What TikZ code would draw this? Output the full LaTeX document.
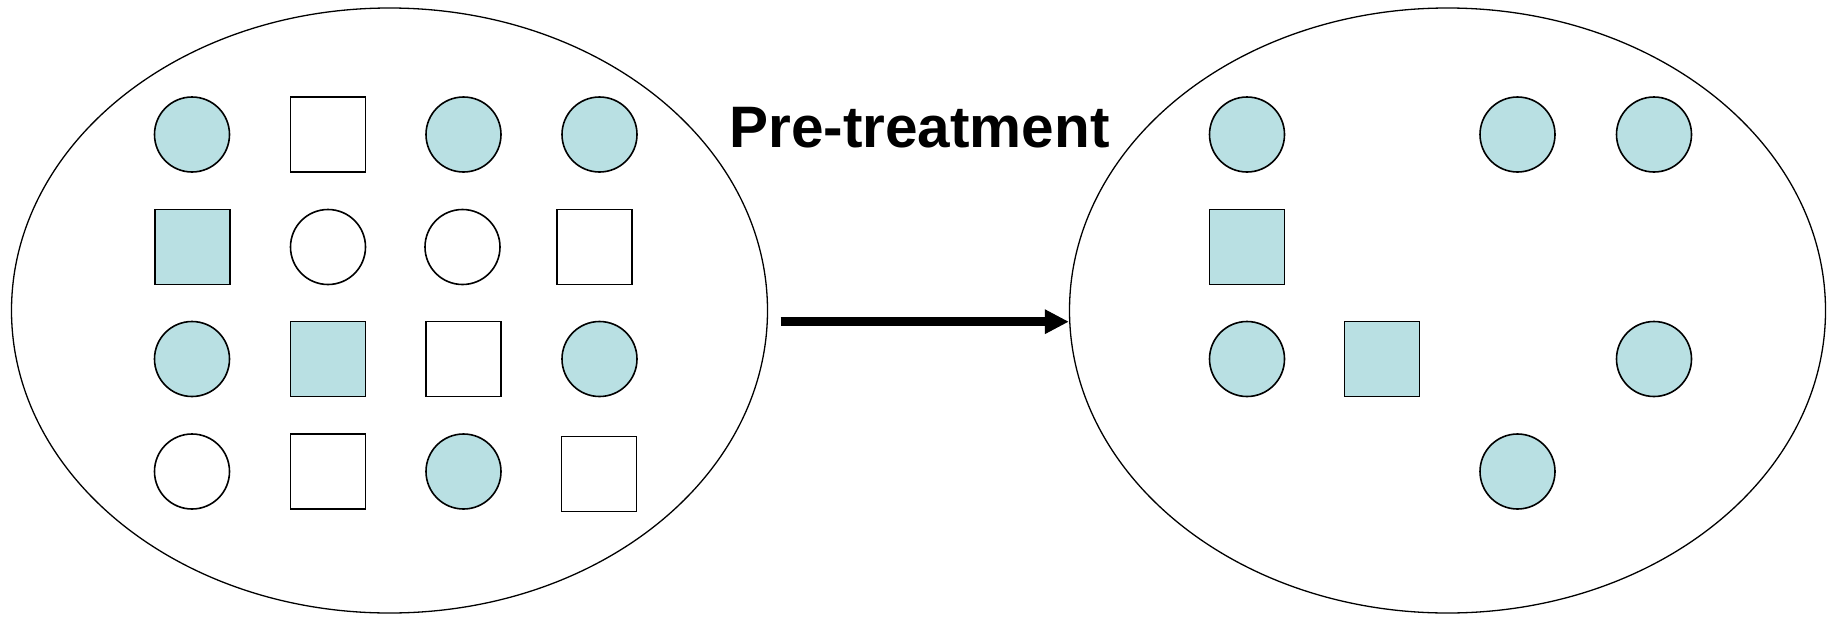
\documentclass[tikz,border=0pt]{standalone}
\usepackage{fontspec}
\setmainfont{Liberation Sans}
\usepackage{tikz}
\usetikzlibrary{arrows.meta,shapes.geometric}
\definecolor{lightcyan}{RGB}{185,224,227}
\tikzset{
  pool/.style={ellipse, draw, line width=1.3pt, inner sep=0pt, minimum width=756pt, minimum height=605pt},
  fullcirc/.style={circle, draw, line width=1.6pt, fill=lightcyan, inner sep=0pt, minimum size=75pt},
  emptycirc/.style={circle, draw, line width=1.6pt, fill=white, inner sep=0pt, minimum size=75pt},
  fullsq/.style={rectangle, draw, line width=1.6pt, fill=lightcyan, inner sep=0pt, minimum size=75pt},
  emptysq/.style={rectangle, draw, line width=1.6pt, fill=white, inner sep=0pt, minimum size=75pt}
}

\begin{document}
\begin{tikzpicture}[x=1pt,y=-1pt]
\useasboundingbox (0,0) rectangle (1831,616);
% the two pools
\node[pool] (before) at (389.5,310.5) {};
\node[pool] (after) at (1447.5,310.5) {};
% before pre-treatment
\node[fullcirc]  (b11) at (192,134.5) {};
\node[emptysq]   (b12) at (328,134.5) {};
\node[fullcirc]  (b13) at (463.5,134.5) {};
\node[fullcirc]  (b14) at (599.5,134.5) {};
\node[fullsq]    (b21) at (192.5,247) {};
\node[emptycirc] (b22) at (328,247) {};
\node[emptycirc] (b23) at (462.5,247) {};
\node[emptysq]   (b24) at (594.5,247) {};
\node[fullcirc]  (b31) at (192,359) {};
\node[fullsq]    (b32) at (328,359) {};
\node[emptysq]   (b33) at (463.5,359) {};
\node[fullcirc]  (b34) at (599.5,359) {};
\node[emptycirc] (b41) at (192,471.5) {};
\node[emptysq]   (b42) at (328,471.5) {};
\node[fullcirc]  (b43) at (463.5,471.5) {};
\node[emptysq]   (b44) at (599,474) {};
% after pre-treatment
\node[fullcirc]  (a11) at (1247,134.5) {};
\node[fullcirc]  (a13) at (1517.5,134.5) {};
\node[fullcirc]  (a14) at (1654,134.5) {};
\node[fullsq]    (a21) at (1247,247) {};
\node[fullcirc]  (a31) at (1247,359) {};
\node[fullsq]    (a32) at (1382,359) {};
\node[fullcirc]  (a34) at (1654,359) {};
\node[fullcirc]  (a43) at (1517.5,471.5) {};
% arrow and label
\node[anchor=base, font=\fontsize{58.5}{62}\selectfont\bfseries] (label) at (919.4,147.5) {Pre-treatment};
\coordinate (start) at (780.7,321.7);
\draw[line width=8.7pt, -{Triangle[length=24pt,width=23pt]}] (start) -- (start -| after.west);
\end{tikzpicture}
\end{document}
